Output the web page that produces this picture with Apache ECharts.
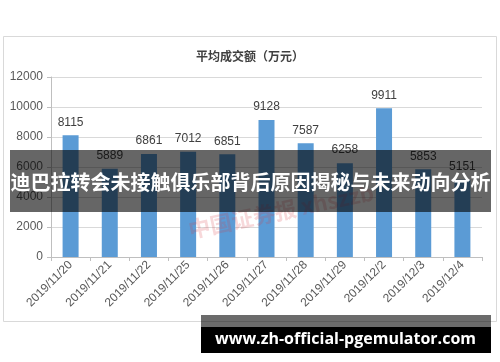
<!DOCTYPE html>
<html>
<head>
<meta charset="utf-8">
<script src="https://cdn.jsdelivr.net/npm/echarts@6/dist/echarts.min.js"></script>
<style>
html,body{margin:0;padding:0;background:#fff;}
#chart{width:500px;height:362px;}
</style>
</head>
<body>
<div id="chart"></div>
<script>
const title = '平均成交额（万元）';
const categories = ['2019/11/20','2019/11/21','2019/11/22','2019/11/25','2019/11/26','2019/11/27','2019/11/28','2019/11/29','2019/12/2','2019/12/3','2019/12/4'];
const values = [8115, 5889, 6861, 7012, 6851, 9128, 7587, 6258, 9911, 5853, 5151];
const yTicks = [0, 2000, 4000, 6000, 8000, 10000, 12000];
const bannerText = '迪巴拉转会未接触俱乐部背后原因揭秘与未来动向分析';
const footerText = 'www.zh-official-pgemulator.com';
const watermarkText = '中国证券报 xhszzb';

const chart = echarts.init(document.getElementById('chart'), null, {renderer: 'canvas'});
const latin = '"Liberation Sans", Arial, sans-serif';
const cjk = '"Noto Sans CJK SC", sans-serif';

chart.setOption({
  animation: false,
  backgroundColor: '#ffffff',
  title: {
    text: title,
    left: 'center',
    top: 45,
    textStyle: {fontFamily: cjk, fontSize: 12, fontWeight: 'bold', color: '#404040'}
  },
  grid: {left: 51, right: 18, top: 77, bottom: 105, containLabel: false},
  xAxis: {
    type: 'category',
    data: categories,
    boundaryGap: true,
    axisLine: {show: true, lineStyle: {color: '#bfbfbf', width: 1}},
    axisTick: {show: true, length: 4, alignWithLabel: false, lineStyle: {color: '#bfbfbf'}},
    axisLabel: {rotate: 45, fontFamily: latin, fontSize: 12, color: '#595959', margin: 6, interval: 0}
  },
  yAxis: {
    type: 'value',
    min: yTicks[0],
    max: yTicks[yTicks.length - 1],
    interval: yTicks[1] - yTicks[0],
    axisLine: {show: true, lineStyle: {color: '#bfbfbf', width: 1}},
    axisTick: {show: true, length: 4, lineStyle: {color: '#bfbfbf'}},
    splitLine: {show: true, lineStyle: {color: '#d9d9d9', width: 1}},
    axisLabel: {fontFamily: latin, fontSize: 12, color: '#595959', margin: 8, formatter: v => String(v)}
  },
  series: [{
    type: 'bar',
    data: values,
    barWidth: 16,
    itemStyle: {color: '#5b9bd5'},
    label: {show: true, position: 'top', distance: 7, fontFamily: latin, fontSize: 12, color: '#404040'}
  }],
  graphic: [
    {type: 'rect', shape: {x: 3.5, y: 36.5, width: 493, height: 285}, style: {fill: 'none', stroke: '#d9d9d9', lineWidth: 1}, z: 0, silent: true},
    {type: 'text', x: 281, y: 211, rotation: 11.7 * Math.PI / 180,
      style: {text: watermarkText, font: 'bold 22px ' + cjk, fill: 'rgba(215,60,70,0.2)', textAlign: 'center', textVerticalAlign: 'middle'}, z: 50, silent: true},
    {type: 'rect', shape: {x: 10, y: 150, width: 481, height: 62}, style: {fill: 'rgba(0,0,0,0.6)'}, z: 100, silent: true},
    {type: 'text', x: 250.5, y: 182, style: {text: bannerText, font: 'bold 20px ' + cjk, fill: '#ffffff', textAlign: 'center', textVerticalAlign: 'middle'}, z: 101, silent: true},
    {type: 'rect', shape: {x: 201, y: 315, width: 290, height: 12}, style: {fill: 'rgba(0,0,0,0.58)'}, z: 100, silent: true},
    {type: 'rect', shape: {x: 201, y: 327, width: 290, height: 26}, style: {fill: '#000000'}, z: 100, silent: true},
    {type: 'text', x: 345.5, y: 339, style: {text: footerText, font: 'bold 16px "Open Sans", sans-serif', fill: '#ffffff', textAlign: 'center', textVerticalAlign: 'middle'}, z: 101, silent: true}
  ]
});
</script>
</body>
</html>
